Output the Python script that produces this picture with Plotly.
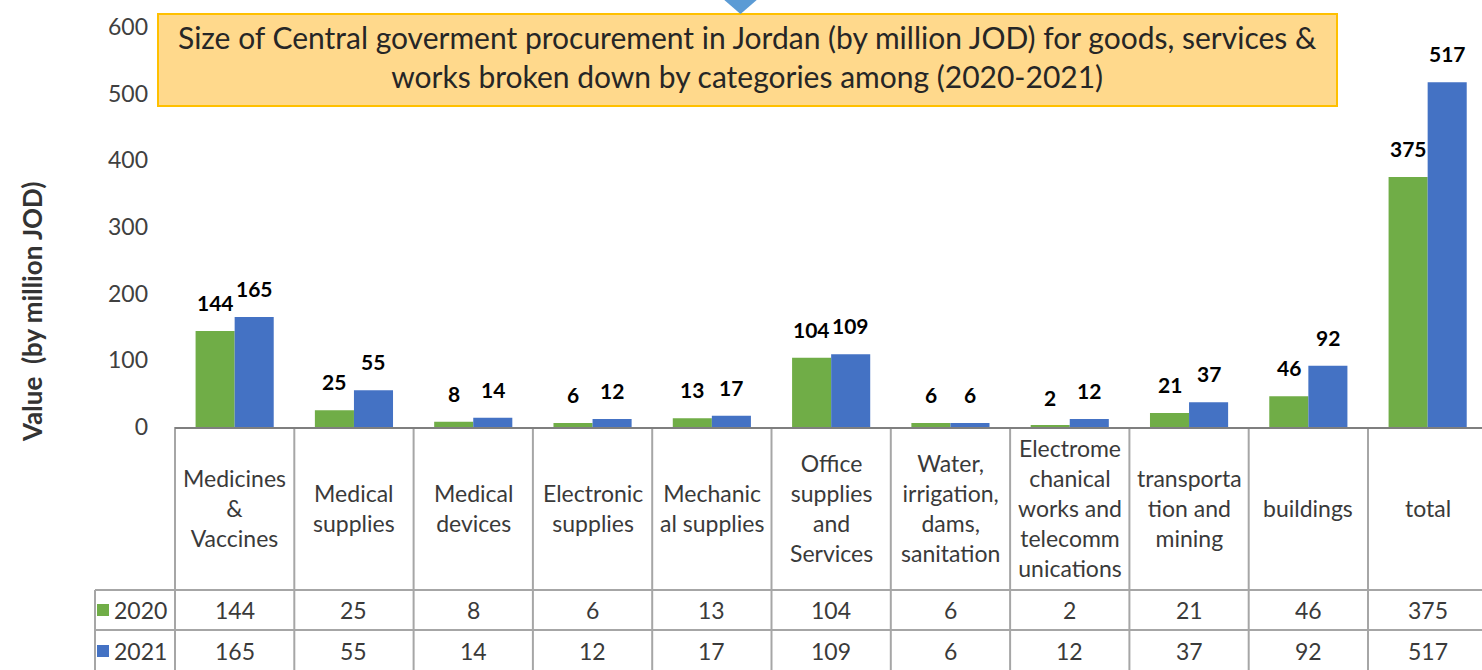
import plotly.graph_objects as go

categories = ["Medicines<br>&<br>Vaccines", "Medical<br>supplies", "Medical<br>devices",
              "Electronic<br>supplies", "Mechanic<br>al supplies",
              "Office<br>supplies<br>and<br>Services", "Water,<br>irrigation,<br>dams,<br>sanitation",
              "Electrome<br>chanical<br>works and<br>telecomm<br>unications",
              "transporta<br>tion and<br>mining", "buildings", "total"]
values_2020 = [144, 25, 8, 6, 13, 104, 6, 2, 21, 46, 375]
values_2021 = [165, 55, 14, 12, 17, 109, 6, 12, 37, 92, 517]
series_names = ["2020", "2021"]
y_ticks = [0, 100, 200, 300, 400, 500, 600]

GREEN = "#70AD47"
BLUE = "#4472C4"
FONT = "Lato, Carlito, Calibri, sans-serif"
TXT = "#3A3A3A"
GRID = "#A6A6A6"

# layout geometry (pixels)
FW, FH = 1482, 670
L, R, T, B = 175, 1482, 27, 427
W, H = R - L, B - T
CAT_W = 119.3
BARGAP = 0.345

def px_x(px):
    return (px - L) / W

def px_y(py):
    return (B - py) / H

n = len(categories)
xs = list(range(n))
x_max = -0.5 + W / CAT_W

fig = go.Figure()
for name, vals, col in [(series_names[0], values_2020, GREEN), (series_names[1], values_2021, BLUE)]:
    fig.add_trace(go.Bar(x=xs, y=vals, name=name, marker=dict(color=col, line=dict(width=0)),
                         showlegend=False, hoverinfo="y"))

shapes = []
annotations = []

# data labels above bars
off = (1 - BARGAP) / 4
for vals, dx in [(values_2020, -off), (values_2021, off)]:
    for i, v in enumerate(vals):
        annotations.append(dict(x=i + dx, y=v, xref="x", yref="y", text=f"<b>{v}</b>",
                                showarrow=False, yanchor="bottom", yshift=14,
                                font=dict(family=FONT, size=21, color="#000000")))

# data table lines
line = dict(color=GRID, width=2)
y_row1, y_row2, y_bot = 590, 630, 672
for k in range(n + 1):
    xp = k * CAT_W / W
    if xp > 1.001:
        continue
    shapes.append(dict(type="line", xref="paper", yref="paper", x0=xp, x1=xp,
                       y0=px_y(B), y1=px_y(y_bot), line=line, layer="below"))
shapes.append(dict(type="line", xref="paper", yref="paper", x0=px_x(95), x1=px_x(95),
                   y0=px_y(y_row1), y1=px_y(y_bot), line=line))
for yy in (y_row1, y_row2):
    shapes.append(dict(type="line", xref="paper", yref="paper", x0=px_x(95), x1=1.0,
                       y0=px_y(yy), y1=px_y(yy), line=line))

# table header texts
for i, c in enumerate(categories):
    annotations.append(dict(x=i, y=px_y((B + y_row1) / 2), xref="x", yref="paper", text=c,
                            showarrow=False, align="center", yanchor="middle",
                            font=dict(family=FONT, size=23, color=TXT)))
# table values
for vals, yc in [(values_2020, (y_row1 + y_row2) / 2), (values_2021, (y_row2 + y_bot) / 2)]:
    for i, v in enumerate(vals):
        annotations.append(dict(x=i, y=px_y(yc), xref="x", yref="paper", text=str(v),
                                showarrow=False, yanchor="middle",
                                font=dict(family=FONT, size=23, color=TXT)))
# legend keys in table
for name, col, yc in [(series_names[0], GREEN, (y_row1 + y_row2) / 2),
                      (series_names[1], BLUE, (y_row2 + y_bot) / 2)]:
    shapes.append(dict(type="rect", xref="paper", yref="paper", x0=px_x(97), x1=px_x(109),
                       y0=px_y(yc + 6), y1=px_y(yc - 6), fillcolor=col, line=dict(width=0)))
    annotations.append(dict(x=px_x(112), y=px_y(yc), xref="paper", yref="paper", text=name,
                            showarrow=False, xanchor="left", yanchor="middle",
                            font=dict(family=FONT, size=23, color=TXT)))

# title box with callout triangle
shapes.append(dict(type="rect", xref="paper", yref="paper", x0=px_x(158), x1=px_x(1337),
                   y0=px_y(106), y1=px_y(14), fillcolor="#FFD98C",
                   line=dict(color="#FFC000", width=2)))
tri = f"M {px_x(722)} {px_y(-2)} L {px_x(759)} {px_y(-2)} L {px_x(740.5)} {px_y(14)} Z"
shapes.append(dict(type="path", xref="paper", yref="paper", path=tri,
                   fillcolor="#5B9BD5", line=dict(width=0)))
annotations.append(dict(x=px_x(747.5), y=px_y(56), xref="paper", yref="paper",
                        text="Size of Central goverment procurement in Jordan (by million JOD) for goods, services &<br>works broken down by categories among (2020-2021)",
                        showarrow=False, align="center", xanchor="center", yanchor="middle",
                        font=dict(family=FONT, size=30, color="#262626")))

# y axis title
annotations.append(dict(x=px_x(32), y=px_y(312), xref="paper", yref="paper",
                        text="<b>Value  (by million JOD)</b>", textangle=-90, showarrow=False,
                        xanchor="center", yanchor="middle",
                        font=dict(family=FONT, size=26, color="#333333")))

fig.update_layout(
    width=FW, height=FH,
    margin=dict(l=L, r=FW - R, t=T, b=FH - B, pad=0),
    paper_bgcolor="white", plot_bgcolor="white",
    barmode="group", bargap=BARGAP, bargroupgap=0,
    shapes=shapes, annotations=annotations,
    xaxis=dict(range=[-0.5, x_max], showticklabels=False, ticks="", showgrid=False,
               zeroline=False, showline=True, linecolor="#7F7F7F", linewidth=2, fixedrange=True),
    yaxis=dict(range=[0, 600], tickvals=y_ticks, showgrid=False, zeroline=False, showline=False,
               ticks="", ticklabelstandoff=26,
               tickfont=dict(family=FONT, size=23, color="#404040"), fixedrange=True),
    font=dict(family=FONT),
)

fig.write_html("out.html", config={"displayModeBar": False},
               post_script="document.body.style.margin='0';document.body.style.overflow='hidden';")
